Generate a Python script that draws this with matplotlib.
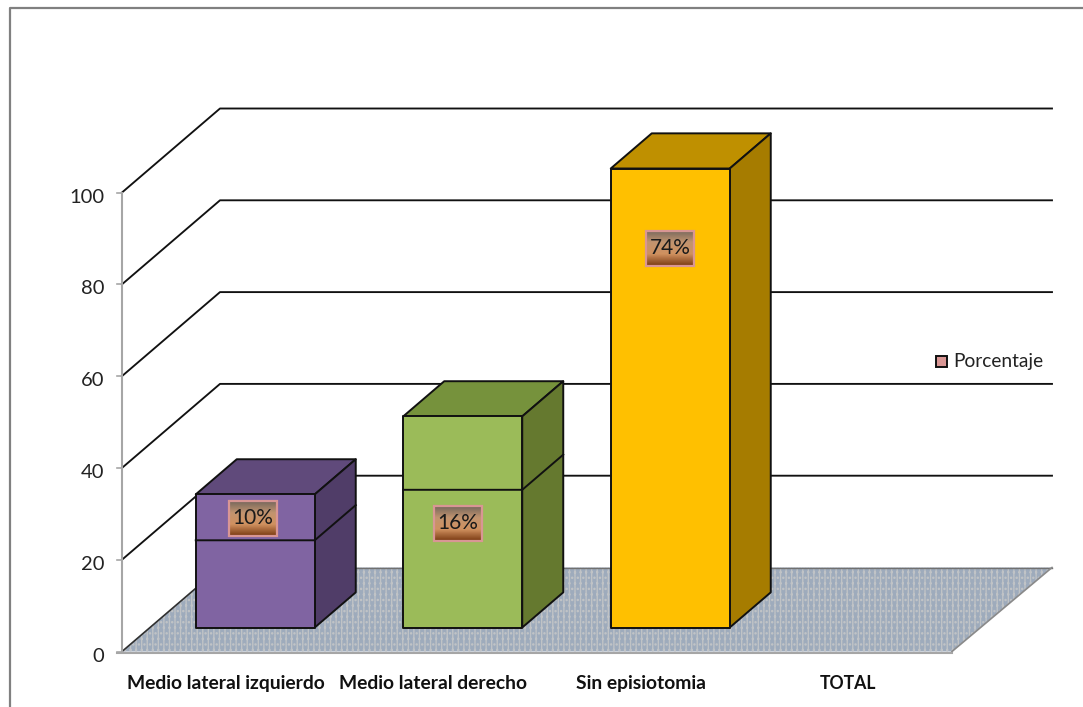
import matplotlib
matplotlib.use('Agg')
import matplotlib.pyplot as plt
from matplotlib.colors import LinearSegmentedColormap
from matplotlib.patches import Polygon, Rectangle
import numpy as np

categorias = ['Medio lateral izquierdo', 'Medio lateral derecho', 'Sin episiotomia', 'TOTAL']
alturas = [29, 46, 100]
divisiones = [19, 30, None]
etiquetas = ['10%', '16%', '74%']
etiqueta_y = [29, 27.9, 87.8]
etiqueta_x = [0.131, 0.117, 0.141]
marcas_y = [0, 20, 40, 60, 80, 100]

color_frente = ['#8064a2', '#9bbb59', '#ffc000']
color_arriba = ['#604a7b', '#76923c', '#bf9000']
color_lado = ['#503d68', '#65792f', '#a67c00']

# escala: pixeles de la imagen pasados a unidades del grafico
px_cat = 207.5
px_val = 4.59
x0 = 225.75
y0 = 651.5
prof_x = 98 / px_cat
prof_y = 84 / px_val
ancho = 119 / px_cat

fig = plt.figure(figsize=(10.83, 7.07), dpi=100)
plt.rcParams['font.family'] = ['Lato', 'DejaVu Sans']
ax = fig.add_axes([0, 0, 1, 1])
ax.axis('off')


def limites():
    ax.set_xlim(-x0 / px_cat, (1083 - x0) / px_cat)
    ax.set_ylim((y0 - 707) / px_val, y0 / px_val)


limites()
izq = -0.5
der = 3.5
fin = der + 100 / px_cat

# marco exterior
ax.plot([(10 - x0) / px_cat, (10 - x0) / px_cat, (1083 - x0) / px_cat],
        [(y0 - 707) / px_val, (y0 - 8) / px_val, (y0 - 8) / px_val],
        color='#808080', lw=1.6, zorder=1)

# piso
piso = Polygon([(izq, 0), (izq + prof_x, prof_y), (fin, prof_y), (der, 0)],
               facecolor='#9eabbc', edgecolor='#c0c3c6', hatch='|||...', lw=0, zorder=2)
ax.add_patch(piso)
ax.plot([izq + prof_x, fin], [prof_y, prof_y], color='#707070', lw=1, zorder=3)
ax.plot([fin, der], [prof_y, 0], color='#8a8a8a', lw=1.2, zorder=3)
ax.plot([izq, izq + prof_x], [0, prof_y], color='#303030', lw=1.2, zorder=3)

# paredes y rejilla
for m in marcas_y[1:]:
    ax.plot([izq, izq + prof_x, fin], [m, m + prof_y, m + prof_y],
            color='#111111', lw=1.35, zorder=3)

# eje y
ax.plot([izq, izq], [0, 100], color='#a6a6a6', lw=1.5, zorder=4)
ax.plot([izq - 0.025, der], [-0.4, -0.4], color='#a6a6a6', lw=1.5, zorder=4)
for m in marcas_y:
    ax.plot([izq - 0.025, izq], [m, m], color='#a6a6a6', lw=1.2, zorder=4)
    ax.text(izq - 0.085, m - 1.0, str(m), ha='right', va='center', fontsize=14.5, color='#222222', zorder=4)

# barras
frac = 28 / 98
prof_b = 41 / 98
for i, h in enumerate(alturas):
    xa = i - ancho / 2 + frac * prof_x + 1.5 / px_cat
    xb = xa + ancho
    ya = frac * prof_y
    dx = prof_b * prof_x
    dy = prof_b * prof_y
    bx = dict(edgecolor='#111111', lw=1.4, zorder=5, joinstyle='round')
    ax.add_patch(Polygon([(xa, ya + h), (xb, ya + h), (xb + dx, ya + h + dy), (xa + dx, ya + h + dy)],
                         facecolor=color_arriba[i], **bx))
    ax.add_patch(Polygon([(xb, ya), (xb + dx, ya + dy), (xb + dx, ya + h + dy), (xb, ya + h)],
                         facecolor=color_lado[i], **bx))
    ax.add_patch(Rectangle((xa, ya), ancho, h, facecolor=color_frente[i], **bx))
    if divisiones[i] is not None:
        d = divisiones[i]
        ax.plot([xa, xb, xb + dx], [ya + d, ya + d, ya + d + dy], color='#111111', lw=1.4, zorder=6)

# etiquetas de datos con degradado
cmap = LinearSegmentedColormap.from_list('caja', ['#76675c', '#c2946f', '#d0915f', '#7a3a12'])
grad = np.linspace(0, 1, 64).reshape(-1, 1)
w = 48 / px_cat
h = 35 / px_val
for i, t in enumerate(etiquetas):
    cx = i + etiqueta_x[i]
    cy = etiqueta_y[i]
    ax.imshow(grad, cmap=cmap, extent=(cx - w / 2, cx + w / 2, cy - h / 2, cy + h / 2),
              aspect='auto', zorder=7, origin='upper')
    ax.add_patch(Rectangle((cx - w / 2, cy - h / 2), w, h, fill=False, edgecolor='#d99694', lw=1.6, zorder=8))
    ax.text(cx, cy, t, ha='center', va='center', fontsize=15, color='#1a1a1a', zorder=9)
limites()

# categorias
for i, c in enumerate(categorias):
    ax.text(i, -6.9, c, ha='center', va='center', fontsize=[13.9, 13.9, 13.9, 12.7][i],
            fontweight='bold', color='#111111')

# leyenda
lx = (936 - x0) / px_cat
ly = (y0 - 367) / px_val
ax.add_patch(Rectangle((lx, ly), 11 / px_cat, 11 / px_val, facecolor='#d99694', edgecolor='#111111', lw=1.4, zorder=6))
ax.text((953 - x0) / px_cat, (y0 - 361) / px_val, 'Porcentaje', ha='left', va='center', fontsize=13.8, color='#222222', zorder=6)

fig.savefig('out.png', dpi=100)
